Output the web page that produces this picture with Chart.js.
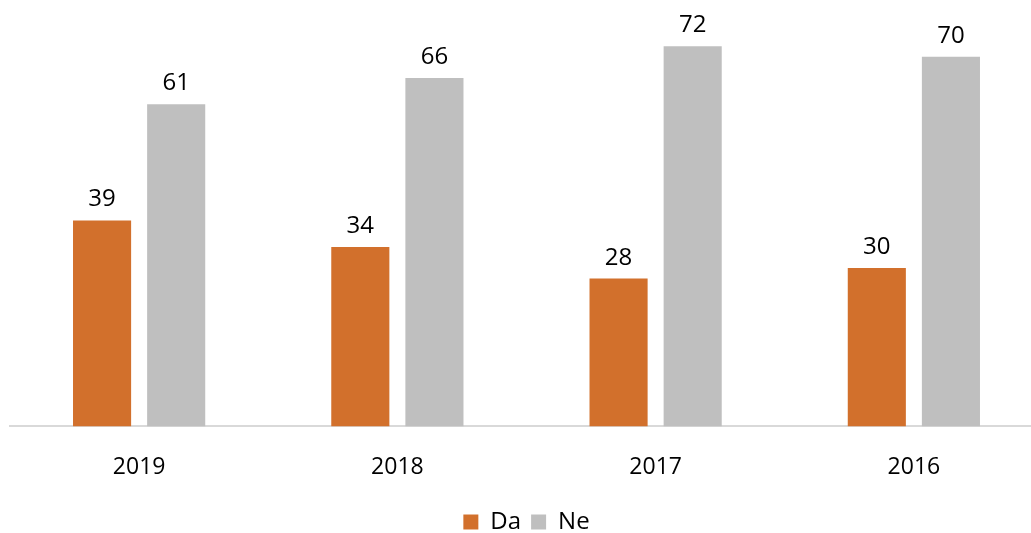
<!DOCTYPE html>
<html lang="hr">
<head>
<meta charset="UTF-8">
<title>Da / Ne</title>
<script src="https://cdn.jsdelivr.net/npm/chart.js"></script>
<style>
  html, body { margin: 0; padding: 0; background: #fff; overflow: hidden; }
  .wrap { width: 1053px; height: 533px; }
</style>
</head>
<body>
<div class="wrap"><canvas id="chart"></canvas></div>
<script>
const years = ['2019', '2018', '2017', '2016'];
const daValues = [39, 34, 28, 30];
const neValues = [61, 66, 72, 70];

const FONT = "'Open Sans', 'DejaVu Sans', sans-serif";

// draws the value above each bar
const valueLabels = {
  id: 'valueLabels',
  afterDatasetsDraw(chart) {
    const ctx = chart.ctx;
    ctx.save();
    ctx.font = '24px ' + FONT;
    ctx.fillStyle = '#000';
    ctx.textAlign = 'center';
    ctx.textBaseline = 'alphabetic';
    chart.data.datasets.forEach((ds, i) => {
      chart.getDatasetMeta(i).data.forEach((bar, j) => {
        ctx.fillText(ds.data[j], bar.x, bar.y - 14);
      });
    });
    ctx.restore();
  }
};

new Chart(document.getElementById('chart'), {
  type: 'bar',
  data: {
    labels: years,
    datasets: [
      { label: 'Da', data: daValues, backgroundColor: '#D2702C' },
      { label: 'Ne', data: neValues, backgroundColor: '#BFBFBF' }
    ]
  },
  options: {
    responsive: true,
    maintainAspectRatio: false,
    animation: false,
    categoryPercentage: 0.574,
    barPercentage: 0.784,
    layout: { padding: { left: 10, right: 10, top: 4, bottom: -11 } },
    plugins: {
      legend: {
        position: 'bottom',
        labels: {
          boxWidth: 15,
          boxHeight: 15,
          padding: 10,
          color: '#000',
          font: { family: FONT, size: 24 }
        }
      },
      tooltip: { enabled: false }
    },
    scales: {
      x: {
        grid: { display: false },
        border: { display: true, color: '#D9D9D9', width: 2 },
        ticks: { color: '#000', padding: 19, font: { family: FONT, size: 23 } }
      },
      y: {
        display: false,
        min: 0,
        max: 80
      }
    }
  },
  plugins: [valueLabels]
});
</script>
</body>
</html>
